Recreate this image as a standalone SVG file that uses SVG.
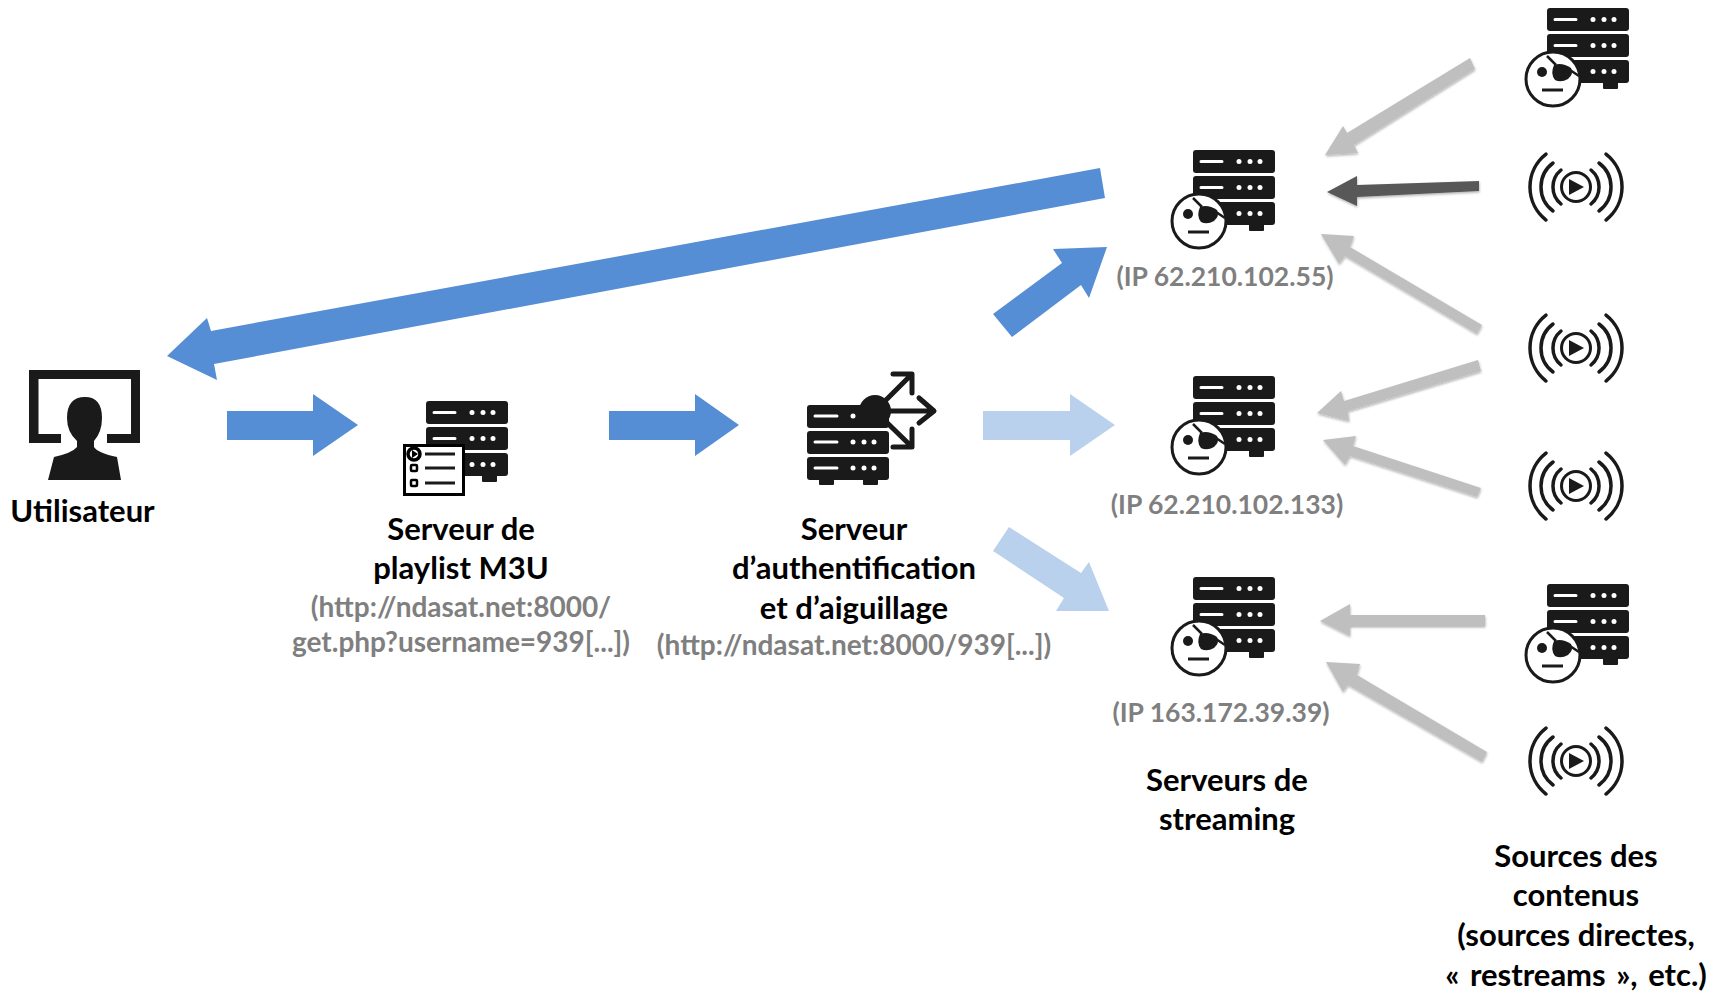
<svg xmlns="http://www.w3.org/2000/svg" xmlns:xlink="http://www.w3.org/1999/xlink" width="1727" height="994" viewBox="0 0 1727 994">
<style>
text{font-family:Lato,"Liberation Sans",Arial,sans-serif;font-weight:700;text-anchor:middle;font-size:31px}
.lb{fill:#000}
.gr{fill:#7f7f7f;font-size:28px}
.ip{fill:#7f7f7f;font-size:26.500px}
.blue{fill:#558ed5}
.light{fill:#b9d1ec}
.gray{fill:#bfbfbf;filter:url(#sh)}
.dark{fill:#595959;filter:url(#sh)}
.ink{fill:#1a1a1a}
.wl{stroke:#fff;stroke-width:3;fill:none;stroke-linecap:round}
.bc{fill:none;stroke:#1a1a1a;stroke-width:3.500;stroke-linecap:round}
.ar{fill:none;stroke:#1a1a1a;stroke-width:5;stroke-linecap:round;stroke-linejoin:round}
</style>
<defs>
<filter id="sh" x="-20%" y="-20%" width="140%" height="140%"><feDropShadow dx="0.500" dy="1.500" stdDeviation="1.200" flood-color="#000" flood-opacity="0.300"/></filter>
<g id="rack">
<rect class="ink" x="0" y="0" width="82" height="23" rx="3"/>
<rect class="ink" x="0" y="26" width="82" height="23" rx="3"/>
<rect class="ink" x="0" y="52" width="82" height="23" rx="3"/>
<rect class="ink" x="56" y="74" width="15" height="7" rx="1"/>
<path class="wl" d="M8 11.500H29M8 37.500H29M8 63.500H29"/>
<g fill="#fff"><circle cx="46" cy="11.500" r="2.500"/><circle cx="57" cy="11.500" r="2.500"/><circle cx="67" cy="11.500" r="2.500"/><circle cx="46" cy="37.500" r="2.500"/><circle cx="57" cy="37.500" r="2.500"/><circle cx="67" cy="37.500" r="2.500"/><circle cx="46" cy="63.500" r="2.500"/><circle cx="57" cy="63.500" r="2.500"/><circle cx="67" cy="63.500" r="2.500"/></g>
</g>
<g id="pirate">
<use href="#rack"/>
<circle cx="6" cy="71" r="27" fill="#fff" stroke="#1a1a1a" stroke-width="3"/>
<circle cx="-5" cy="64" r="5" fill="#1a1a1a"/>
<path d="M7 57Q15 54 24 60Q27 66 21 71Q14 75 8 72Q3 66 7 57Z" fill="#1a1a1a"/>
<path d="M0 48L9 57M23 62L32 68" stroke="#1a1a1a" stroke-width="2.500" fill="none"/>
<path d="M-5 82H16" stroke="#1a1a1a" stroke-width="3"/>
</g>
<g id="cast">
<circle cx="0" cy="0" r="14.500" fill="none" stroke="#1a1a1a" stroke-width="3"/>
<path d="M-7-8L8 0L-7 8Z" fill="#1a1a1a"/>
<path class="bc" d="M-15-17A22 22 0 0 0-15 17M15-17A22 22 0 0 1 15 17M-23-24A30 30 0 0 0-23 24M23-24A30 30 0 0 1 23 24M-30-33A42 42 0 0 0-30 33M30-33A42 42 0 0 1 30 33"/>
</g>
</defs>

<g id="connectors">
<polygon class="blue" points="1100,168 1105,198 214,364 217,380 167,356 207,318 211,331"/>
<polygon class="blue" points="227,411 313,411 313,394 358,425 313,456 313,440 227,440"/>
<polygon class="blue" points="609,411 695,411 695,394 739,425 695,456 695,440 609,440"/>
<polygon class="light" points="983,411 1070,411 1070,394 1115,425 1070,456 1070,440 983,440"/>
<polygon class="blue" points="993,314 1062,263 1053,249 1107,247 1089,298 1081,285 1012,337"/>
<polygon class="light" points="1009,527 1081,573 1089,562 1109,611 1056,611 1064,598 993,551"/>
<polygon class="gray" points="1470,58 1475,69 1354,145 1358,153 1325,155 1343,126 1347,133"/>
<polygon class="dark" points="1479,181 1479,191 1357,197 1357,206 1327,192 1357,176 1357,185"/>
<polygon class="gray" points="1482,325 1477,334 1345,256 1339,264 1321,234 1354,236 1350,247"/>
<polygon class="gray" points="1478,360 1481,371 1348,411 1349,421 1317,413 1341,391 1344,401"/>
<polygon class="gray" points="1481,488 1477,497 1350,456 1345,465 1323,440 1356,436 1353,446"/>
<polygon class="gray" points="1485,615 1485,626 1350,626 1350,636 1320,621 1350,604 1350,615"/>
<polygon class="gray" points="1487,752 1482,762 1348,685 1343,692 1326,662 1360,664 1357,675"/>
</g>

<g id="user">
<path class="ink" fill-rule="evenodd" d="M29 370H140V443H107V434H131V379H38.500V434H61V443H29Z"/>
<path class="ink" d="M48 480L54 457Q72 453 77 447V441Q67 432 67 418Q67 397 85 397Q102 397 102 418Q102 432 94 441V447Q98 453 117 457L121 480Z"/>
<text class="lb" x="82.500" y="522">Utilisateur</text>
</g>

<g id="playlist">
<use href="#rack" x="426" y="401"/>
<rect x="404.500" y="445.500" width="59" height="49" fill="#fff" stroke="#000" stroke-width="3"/>
<circle cx="414" cy="454" r="6" fill="#fff" stroke="#000" stroke-width="3.500"/>
<path d="M412 450L418 454L412 458Z" fill="#000"/>
<rect x="411" y="465" width="6" height="6" rx="1" fill="none" stroke="#000" stroke-width="2.500"/>
<rect x="411" y="480" width="6" height="6" rx="1" fill="none" stroke="#000" stroke-width="2.500"/>
<path d="M425 454H455M425 468H455M425 483H455" stroke="#1a1a1a" stroke-width="3"/>
<text class="lb" x="461" y="540">Serveur de</text>
<text class="lb" x="461" y="579">playlist M3U</text>
<text class="gr" x="461" y="617">(http://ndasat.net:8000/</text>
<text class="gr" x="461" y="652">get.php?username=939[...])</text>
</g>

<g id="auth">
<rect class="ink" x="807" y="405" width="82" height="23" rx="3"/>
<rect class="ink" x="807" y="431" width="82" height="23" rx="3"/>
<rect class="ink" x="807" y="457" width="82" height="23" rx="3"/>
<rect class="ink" x="819" y="479" width="15" height="6" rx="1"/>
<rect class="ink" x="863" y="479" width="15" height="6" rx="1"/>
<path class="wl" d="M815 416H837M815 442H837M815 468H837"/>
<g fill="#fff"><circle cx="853" cy="416" r="2.500"/><circle cx="853" cy="442" r="2.500"/><circle cx="864" cy="442" r="2.500"/><circle cx="874" cy="442" r="2.500"/><circle cx="853" cy="468" r="2.500"/><circle cx="864" cy="468" r="2.500"/><circle cx="874" cy="468" r="2.500"/></g>
<circle cx="875" cy="411" r="16" fill="#1a1a1a"/>
<path class="ar" d="M875 411L911 375M893 374H912V393M875 411H933M919 398L934 411L919 423M875 411L911 446M893 447H912V429"/>
<text class="lb" x="854" y="540">Serveur</text>
<text class="lb" x="854" y="579">d’authentification</text>
<text class="lb" x="854" y="619">et d’aiguillage</text>
<text class="gr" x="854" y="655">(http://ndasat.net:8000/939[...])</text>
</g>

<g id="stream1"><use href="#pirate" x="1193" y="150"/><text class="ip" x="1225" y="286">(IP 62.210.102.55)</text></g>
<g id="stream2"><use href="#pirate" x="1193" y="376"/><text class="ip" x="1227" y="514">(IP 62.210.102.133)</text></g>
<g id="stream3"><use href="#pirate" x="1193" y="577"/><text class="ip" x="1221" y="722">(IP 163.172.39.39)</text></g>
<g id="streamLabel"><text class="lb" x="1227" y="791">Serveurs de</text><text class="lb" x="1227" y="830">streaming</text></g>

<g id="source1"><use href="#pirate" x="1547" y="8"/></g>
<g id="source2"><use href="#cast" x="1576" y="187"/></g>
<g id="source3"><use href="#cast" x="1576" y="348"/></g>
<g id="source4"><use href="#cast" x="1576" y="486"/></g>
<g id="source5"><use href="#pirate" x="1547" y="584"/></g>
<g id="source6"><use href="#cast" x="1576" y="761"/></g>
<g id="sourceLabel">
<text class="lb" x="1576" y="867">Sources des</text>
<text class="lb" x="1576" y="906">contenus</text>
<text class="lb" x="1576" y="946">(sources directes,</text>
<text class="lb" x="1576" y="986" word-spacing="3">« restreams », etc.)</text>
</g>
</svg>
